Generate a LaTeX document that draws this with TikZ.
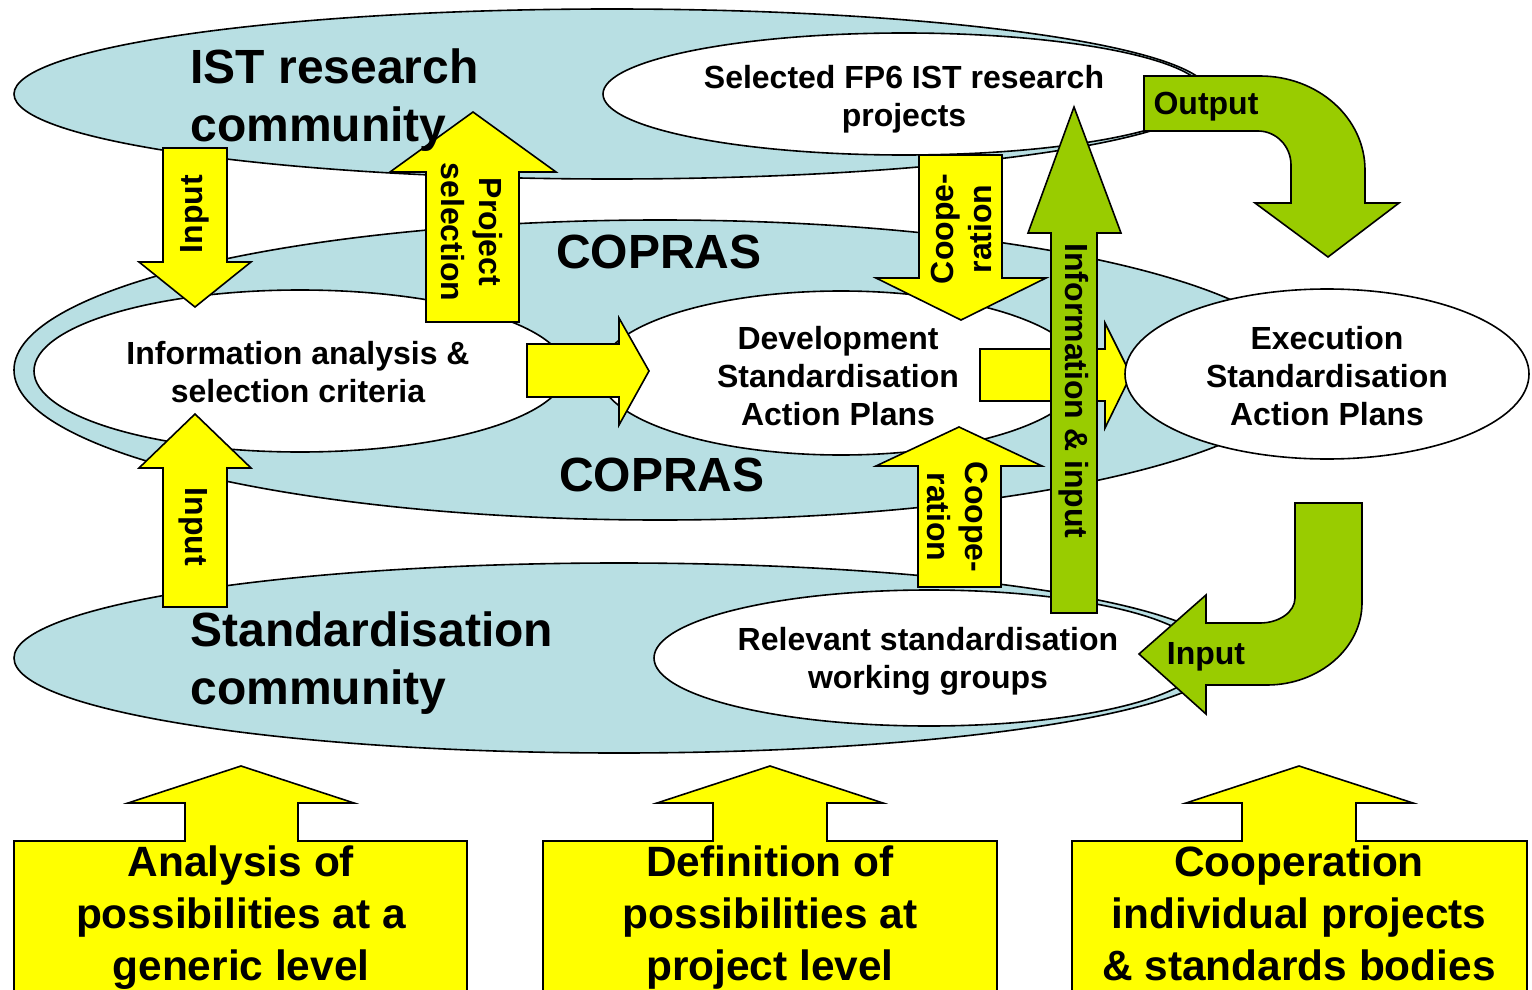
\documentclass[tikz,border=0pt]{standalone}
\usepackage{fontspec}
\setmainfont{Liberation Sans}
\usetikzlibrary{shapes.geometric}
\definecolor{lblue}{RGB}{184,223,227}
\definecolor{ylw}{RGB}{255,255,0}
\definecolor{grn}{RGB}{153,204,0}
\begin{document}
\begin{tikzpicture}[x=0.5pt,y=-0.5pt,
  ell/.style={ellipse, draw=black, line width=0.8pt, inner sep=0pt, outer sep=0pt},
  bluell/.style={ell, fill=lblue},
  whiteell/.style={ell, fill=white},
  yarrow/.style={draw=black, line width=0.8pt, fill=ylw, line join=miter},
  garrow/.style={draw=black, line width=0.8pt, fill=grn, line join=miter},
  lbl/.style={font=\fontsize{16}{19}\selectfont\bfseries, align=center, inner sep=0pt},
  big/.style={font=\fontsize{24}{29}\selectfont\bfseries, align=left, inner sep=0pt, anchor=west},
  boxtxt/.style={font=\fontsize{21.2}{26}\selectfont\bfseries, align=center, inner sep=0pt, text depth=0pt}]
\useasboundingbox (0,0) rectangle (1532,990);
\clip (0,0) rectangle (1532,990);
\fill[white] (0,0) rectangle (1532,990);

% community ellipses
\node[bluell, minimum width=598pt, minimum height=85pt] (ist) at (612,94) {};
\node[whiteell, minimum width=301pt, minimum height=61pt] (sel) at (904,94) {};
\node[bluell, minimum width=646pt, minimum height=150pt] (copras) at (660,370) {};
\node[whiteell, minimum width=266pt, minimum height=81pt] (info) at (300,371) {};
\node[whiteell, minimum width=242pt, minimum height=82pt] (dev) at (841,373) {};
\node[bluell, minimum width=605pt, minimum height=95pt] (std) at (619,658) {};
\node[whiteell, minimum width=275pt, minimum height=68pt] (rel) at (929,658) {};

% yellow block arrows
\draw[yarrow] (163,148) -- (227,148) -- (227,262) -- (251,262) -- (195,307) -- (139,262) -- (163,262) -- cycle;
\draw[yarrow] (426,322) -- (519,322) -- (519,172) -- (556,172) -- (473,112) -- (390,172) -- (426,172) -- cycle;
\draw[yarrow] (163,607) -- (227,607) -- (227,468) -- (251,468) -- (195,414) -- (139,468) -- (163,468) -- cycle;
\draw[yarrow] (527,344) -- (619,344) -- (619,318) -- (649,371) -- (619,425) -- (619,397) -- (527,397) -- cycle;
\draw[yarrow] (919,155) -- (1002,155) -- (1002,278) -- (1046,278) -- (961,320) -- (876,278) -- (919,278) -- cycle;
\draw[yarrow] (918,587) -- (1001,587) -- (1001,466) -- (1042,466) -- (959,427) -- (876,466) -- (918,466) -- cycle;
\draw[yarrow] (980,349) -- (1105,349) -- (1105,323) -- (1131,375) -- (1105,428) -- (1105,401) -- (980,401) -- cycle;

\node[whiteell, minimum width=202pt, minimum height=85pt] (exe) at (1327,374) {};

% green arrows
\draw[garrow] (1051,613) -- (1097,613) -- (1097,233) -- (1121,233) -- (1074,107) -- (1028,233) -- (1051,233) -- cycle;
\draw[garrow] (1144,76) -- (1260,76) .. controls (1318,76) and (1365,118) .. (1365,170)
  -- (1365,203) -- (1399,203) -- (1328,257) -- (1255,203) -- (1291,203) -- (1291,165)
  .. controls (1291,146) and (1276,131) .. (1258,131) -- (1144,131) -- cycle;
\draw[garrow] (1295,503) -- (1362,503) -- (1362,603) .. controls (1362,648) and (1319,685) .. (1267,685)
  -- (1206,685) -- (1206,714) -- (1139,654) -- (1206,595) -- (1206,623) -- (1260,623)
  .. controls (1279,623) and (1295,612) .. (1295,598) -- cycle;

% bottom boxes with up arrows
\draw[yarrow] (14,1000) -- (14,841) -- (185,841) -- (185,803) -- (128,803) -- (241,766) -- (354,803) -- (298,803) -- (298,841) -- (467,841) -- (467,1000);
\draw[yarrow] (543,1000) -- (543,841) -- (713,841) -- (713,803) -- (657,803) -- (770,766) -- (883,803) -- (827,803) -- (827,841) -- (997,841) -- (997,1000);
\draw[yarrow] (1072,1000) -- (1072,841) -- (1242,841) -- (1242,803) -- (1186,803) -- (1299,766) -- (1413,803) -- (1356,803) -- (1356,841) -- (1527,841) -- (1527,1000);

% texts
\node[big] (tist) at (190,100) {IST research\\community};
\node[big] (tstd) at (190,663) {Standardisation\\community};
\node[font=\fontsize{24}{29}\selectfont\bfseries, inner sep=0pt] (tcop1) at (659,252) {COPRAS};
\node[font=\fontsize{24}{29}\selectfont\bfseries, inner sep=0pt] (tcop2) at (662,475) {COPRAS};
\node[lbl] (tsel) at (904,99) {Selected FP6 IST research\\projects};
\node[lbl] (tinfo) at (298,372) {Information analysis \&\\selection criteria};
\node[lbl] (tdev) at (838,376) {Development\\Standardisation\\Action Plans};
\node[lbl] (texe) at (1327,376) {Execution\\Standardisation\\Action Plans};
\node[lbl] (trel) at (928,661) {Relevant standardisation\\working groups};

\node[lbl, rotate=90] (lin1) at (195,214) {Input};
\node[lbl, rotate=-90] (lps) at (472,232) {Project\\selection};
\node[lbl, rotate=-90] (lin2) at (193,527) {Input};
\node[lbl, rotate=90] (lco1) at (961,229) {Coope-\\ration};
\node[lbl, rotate=-90] (lco2) at (958,517) {Coope-\\ration};
\node[lbl, rotate=-90] (linf) at (1074,391) {Information \& input};
\node[lbl] (lout) at (1206,107) {Output};
\node[lbl] (lin3) at (1206,657) {Input};

\node[boxtxt] (b1) at (241,913.5) {Analysis of\\possibilities at a\\generic level};
\node[boxtxt] (b2) at (770,913.5) {Definition of\\possibilities at\\project level};
\node[boxtxt] (b3) at (1299,913.5) {Cooperation\\individual projects\\\& standards bodies};
\end{tikzpicture}
\end{document}
